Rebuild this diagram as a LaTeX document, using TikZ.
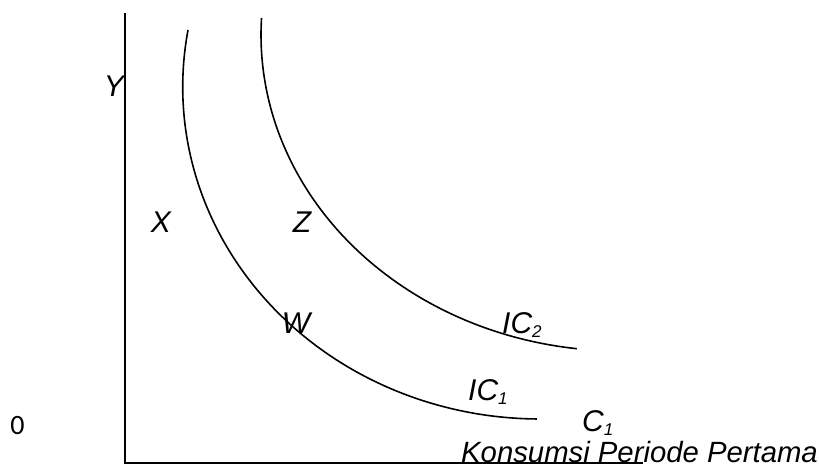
\documentclass[tikz,border=0pt]{standalone}
\usepackage{fontspec}
\setmainfont{Liberation Sans}
\newfontfamily\zerofont{Carlito}
\newcommand{\subidx}[1]{\raisebox{-0.14em}{\fontsize{17}{20}\selectfont #1}}
\begin{document}
\begin{tikzpicture}[x=1pt,y=-1pt,
  lbl/.style={font=\fontsize{30}{36}\selectfont\itshape, inner sep=0pt},
  axisline/.style={line width=2.4pt},
  curve/.style={line width=1.6pt}]
\useasboundingbox (0,0) rectangle (819,471);
% axes
\coordinate (top) at (125,13);
\coordinate (orig) at (125,463);
\coordinate (xend) at (643,463);
\draw[axisline] (top) -- (orig) -- (xend);
% IC1 (elliptic arc)
\draw[curve] plot[domain=189.9:90.5, samples=120, variable=\t] ({540+357.3*cos(\t)}, {87+332*sin(\t)});
% IC2 (elliptic arc)
\draw[curve] plot[domain=183.1:96.9, samples=120, variable=\t] ({620+359*cos(\t)}, {35+316*sin(\t)});
% labels
\node[lbl] (Y) at (114,86) {Y};
\node[lbl] (X) at (161,222) {X};
\node[lbl] (Z) at (302,222) {Z};
\node[lbl] (W) at (296,323) {W};
\node[lbl, anchor=base west] (IC2) at (502,333) {IC\subidx{2}};
\node[lbl, anchor=base west] (IC1) at (468,400) {IC\subidx{1}};
\node[lbl, anchor=base west] (C1) at (582,431) {C\subidx{1}};
\node[lbl, font=\fontsize{29.3}{35}\selectfont\itshape, anchor=base west] (K) at (461,462) {Konsumsi Periode Pertama};
\node[font=\zerofont\fontsize{28}{34}\selectfont, inner sep=0pt] (zero) at (17.5,426) {0};
\end{tikzpicture}
\end{document}
